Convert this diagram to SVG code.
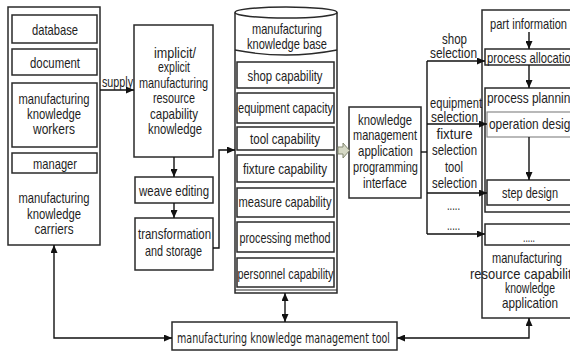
<svg xmlns="http://www.w3.org/2000/svg" width="570" height="352" viewBox="0 0 570 352">
<defs>
<marker id="ah" viewBox="0 0 8 7" markerWidth="8" markerHeight="7" refX="8" refY="3.5" orient="auto-start-reverse" markerUnits="userSpaceOnUse">
<path d="M0,0 L8,3.5 L0,7 z" fill="#111"/>
</marker>
<style>
.b{fill:#fff;stroke:#2a2a2a;stroke-width:1.5}
.lb{fill:#fff;stroke:#8a8a8a;stroke-width:1.2}
.t{font-family:"Liberation Sans",Arial,sans-serif;font-size:15px;fill:#1e1e1e;text-anchor:middle;font-variant-ligatures:none}
.s{text-anchor:start}
.c{fill:none;stroke:#111;stroke-width:1.4}
.ar{marker-end:url(#ah)}
.ab{marker-end:url(#ah);marker-start:url(#ah)}
.tool{font-family:"DejaVu Sans",sans-serif;font-size:14px;fill:#1e1e1e;text-anchor:middle;font-variant-ligatures:none}
</style>
</defs>
<rect width="570" height="352" fill="#fff"/>

<g id="carriers">
<rect class="b" x="8" y="7" width="92" height="238"/>
<text class="t" x="54" y="233.5" textLength="39" lengthAdjust="spacingAndGlyphs">carriers</text>
<text class="t" x="54" y="218.5" textLength="54" lengthAdjust="spacingAndGlyphs">knowledge</text>
<text class="t" x="54" y="202.5" textLength="71" lengthAdjust="spacingAndGlyphs">manufacturing</text>
</g>
<g id="database">
<rect class="b" x="12" y="15" width="85" height="28"/>
<text class="t" x="55" y="35" textLength="46" lengthAdjust="spacingAndGlyphs">database</text>
</g>
<g id="document">
<rect class="b" x="12" y="49" width="85" height="26"/>
<text class="t" x="55" y="68" textLength="50" lengthAdjust="spacingAndGlyphs">document</text>
</g>
<g id="workers">
<rect class="b" x="12" y="83" width="85" height="64"/>
<text class="t" x="54" y="103.5" textLength="71" lengthAdjust="spacingAndGlyphs">manufacturing</text>
<text class="t" x="54" y="118.5" textLength="54" lengthAdjust="spacingAndGlyphs">knowledge</text>
<text class="t" x="54" y="133.5" textLength="42" lengthAdjust="spacingAndGlyphs">workers</text>
</g>
<g id="manager">
<rect class="b" x="12" y="153" width="85" height="20"/>
<text class="t" x="55" y="168.5" textLength="44" lengthAdjust="spacingAndGlyphs">manager</text>
</g>

<g id="knowledge">
<rect class="b" x="134" y="25" width="79" height="132"/>
<text class="t" x="175" y="57.5" textLength="42" lengthAdjust="spacingAndGlyphs">implicit/</text>
<text class="t" x="174" y="72" textLength="32" lengthAdjust="spacingAndGlyphs">explicit</text>
<text class="t" x="173.5" y="87.5" textLength="69" lengthAdjust="spacingAndGlyphs">manufacturing</text>
<text class="t" x="174" y="103" textLength="42" lengthAdjust="spacingAndGlyphs">resource</text>
<text class="t" x="174" y="118.5" textLength="48" lengthAdjust="spacingAndGlyphs">capability</text>
<text class="t" x="175" y="134" textLength="54" lengthAdjust="spacingAndGlyphs">knowledge</text>
</g>
<g id="weave">
<rect class="b" x="135" y="177" width="78" height="26"/>
<text class="t" x="174" y="195.5" textLength="70" lengthAdjust="spacingAndGlyphs">weave editing</text>
</g>
<g id="transform">
<rect class="b" x="135" y="218" width="78" height="52"/>
<text class="t" x="174.5" y="238.5" textLength="73" lengthAdjust="spacingAndGlyphs">transformation</text>
<text class="t" x="173.5" y="255.5" textLength="57" lengthAdjust="spacingAndGlyphs">and storage</text>
</g>

<g id="kb">
<path class="b" d="M235,12.5 V293 H337 V12.5"/>
<ellipse class="b" cx="286" cy="12.5" rx="51" ry="5.5"/>
<path d="M235,50 Q286,60 337,50" fill="none" stroke="#2a2a2a" stroke-width="1.3"/>
<line x1="235" y1="290" x2="337" y2="290" stroke="#2a2a2a" stroke-width="1.2"/>
<text class="t" x="287" y="33.5" textLength="70" lengthAdjust="spacingAndGlyphs">manufacturing</text>
<text class="t" x="287" y="48.5" textLength="80" lengthAdjust="spacingAndGlyphs">knowledge base</text>
</g>
<g id="shop">
<rect class="b" x="237" y="62" width="97" height="26"/>
<text class="t" x="285" y="80.5" textLength="75" lengthAdjust="spacingAndGlyphs">shop capability</text>
</g>
<g id="equipment">
<rect class="b" x="237" y="93" width="97" height="30"/>
<text class="t" x="285.5" y="112.5" textLength="95" lengthAdjust="spacingAndGlyphs">equipment capacity</text>
</g>
<g id="tool">
<rect class="b" x="237" y="127" width="97" height="23"/>
<text class="t" x="285" y="143.5" textLength="70" lengthAdjust="spacingAndGlyphs">tool capability</text>
</g>
<g id="fixture">
<rect class="b" x="237" y="155" width="97" height="27"/>
<text class="t" x="285" y="173.5" textLength="84" lengthAdjust="spacingAndGlyphs">fixture capability</text>
</g>
<g id="measure">
<rect class="b" x="237" y="188" width="97" height="29"/>
<text class="t" x="285" y="206.5" textLength="93" lengthAdjust="spacingAndGlyphs">measure capability</text>
</g>
<g id="processing">
<rect class="b" x="237" y="222" width="97" height="30"/>
<text class="t" x="285" y="242.5" textLength="91" lengthAdjust="spacingAndGlyphs">processing method</text>
</g>
<g id="personnel">
<rect class="b" x="237" y="258" width="97" height="29"/>
<text class="t" x="285.5" y="278.5" textLength="96" lengthAdjust="spacingAndGlyphs">personnel capability</text>
</g>

<g id="api">
<rect class="b" x="349" y="107" width="72" height="91"/>
<text class="t" x="385" y="124.5" textLength="54" lengthAdjust="spacingAndGlyphs">knowledge</text>
<text class="t" x="385" y="140" textLength="64" lengthAdjust="spacingAndGlyphs">management</text>
<text class="t" x="385.5" y="156" textLength="55" lengthAdjust="spacingAndGlyphs">application</text>
<text class="t" x="385.5" y="172" textLength="65" lengthAdjust="spacingAndGlyphs">programming</text>
<text class="t" x="385" y="188" textLength="44" lengthAdjust="spacingAndGlyphs">interface</text>
</g>

<g id="application">
<rect class="b" x="482" y="10" width="92" height="308"/>
<text class="t" x="528.5" y="28.5" textLength="77" lengthAdjust="spacingAndGlyphs">part information</text>
<text class="t" x="527" y="262.5" textLength="70" lengthAdjust="spacingAndGlyphs">manufacturing</text>
<text class="t" x="524" y="278.5" textLength="108" lengthAdjust="spacingAndGlyphs">resource capability</text>
<text class="t" x="530" y="292.5" textLength="50" lengthAdjust="spacingAndGlyphs">knowledge</text>
<text class="t" x="530" y="307.5" textLength="56" lengthAdjust="spacingAndGlyphs">application</text>
</g>
<g id="allocation">
<rect class="b" x="485" y="49" width="89" height="16"/>
<text class="t s" x="487" y="62.5" textLength="90" lengthAdjust="spacingAndGlyphs">process allocation</text>
</g>
<g id="planning">
<rect class="b" x="485" y="88" width="89" height="124"/>
<text class="t s" x="487" y="102.5" textLength="90" lengthAdjust="spacingAndGlyphs">process planning</text>
</g>
<g id="operation">
<rect class="lb" x="487" y="112" width="87" height="25"/>
<text class="t s" x="489" y="128.5" textLength="88" lengthAdjust="spacingAndGlyphs">operation design</text>
</g>
<g id="step">
<rect class="b" x="487" y="180" width="87" height="25"/>
<text class="t" x="530" y="197.5" textLength="56" lengthAdjust="spacingAndGlyphs">step design</text>
</g>
<g id="more">
<rect class="b" x="485" y="224" width="89" height="21"/>
<text class="t" x="529" y="241.5" textLength="12" lengthAdjust="spacingAndGlyphs">.....</text>
</g>

<g id="mgmt-tool">
<rect class="b" x="172" y="322" width="225" height="28"/>
<text class="tool" x="283.5" y="342.5" textLength="213" lengthAdjust="spacingAndGlyphs">manufacturing knowledge management tool</text>
</g>

<g id="connectors">
<line class="c ar" x1="100" y1="90" x2="134" y2="90"/>
<text class="t" x="117.5" y="87" textLength="31" lengthAdjust="spacingAndGlyphs">supply</text>
<line class="c ar" x1="174" y1="157" x2="174" y2="177"/>
<line class="c ar" x1="174" y1="203" x2="174" y2="218"/>
<path class="c ar" d="M213,248 H219 V150 H235"/>
<polygon points="338,147 343,147 343,143 349.5,150.5 343,158 343,154 338,154" fill="#d6d9c6" stroke="#858a72" stroke-width="1"/>
<line class="c" x1="421" y1="152" x2="427" y2="152"/>
<line class="c" x1="427" y1="61" x2="427" y2="234"/>
<line class="c ar" x1="427" y1="61" x2="485" y2="61"/>
<line class="c ar" x1="427" y1="124" x2="487" y2="124"/>
<line class="c ar" x1="427" y1="193" x2="487" y2="193"/>
<line class="c ar" x1="427" y1="234" x2="485" y2="234"/>
<text class="t" x="454.5" y="43.5" textLength="25" lengthAdjust="spacingAndGlyphs">shop</text>
<text class="t" x="453.5" y="57.5" textLength="47" lengthAdjust="spacingAndGlyphs">selection</text>
<text class="t" x="456" y="107.5" textLength="52" lengthAdjust="spacingAndGlyphs">equipment</text>
<text class="t" x="454.5" y="122" textLength="47" lengthAdjust="spacingAndGlyphs">selection</text>
<text class="t" x="454.5" y="138.5" textLength="36" lengthAdjust="spacingAndGlyphs">fixture</text>
<text class="t" x="454.5" y="155" textLength="45" lengthAdjust="spacingAndGlyphs">selection</text>
<text class="t" x="454" y="171.5" textLength="18" lengthAdjust="spacingAndGlyphs">tool</text>
<text class="t" x="454.5" y="187.5" textLength="45" lengthAdjust="spacingAndGlyphs">selection</text>
<text class="t" x="453.5" y="209.5" textLength="13" lengthAdjust="spacingAndGlyphs">.....</text>
<text class="t" x="453.5" y="229.5" textLength="13" lengthAdjust="spacingAndGlyphs">.....</text>
<line class="c ar" x1="529" y1="32" x2="529" y2="49"/>
<line class="c ar" x1="529" y1="65" x2="529" y2="88"/>
<line class="c ar" x1="529" y1="137" x2="529" y2="180"/>
<path class="c ab" d="M54,245 V338 H172"/>
<path class="c ab" d="M397,338 H529 V318"/>
<line class="c ab" x1="285" y1="293" x2="285" y2="322"/>
</g>
</svg>
